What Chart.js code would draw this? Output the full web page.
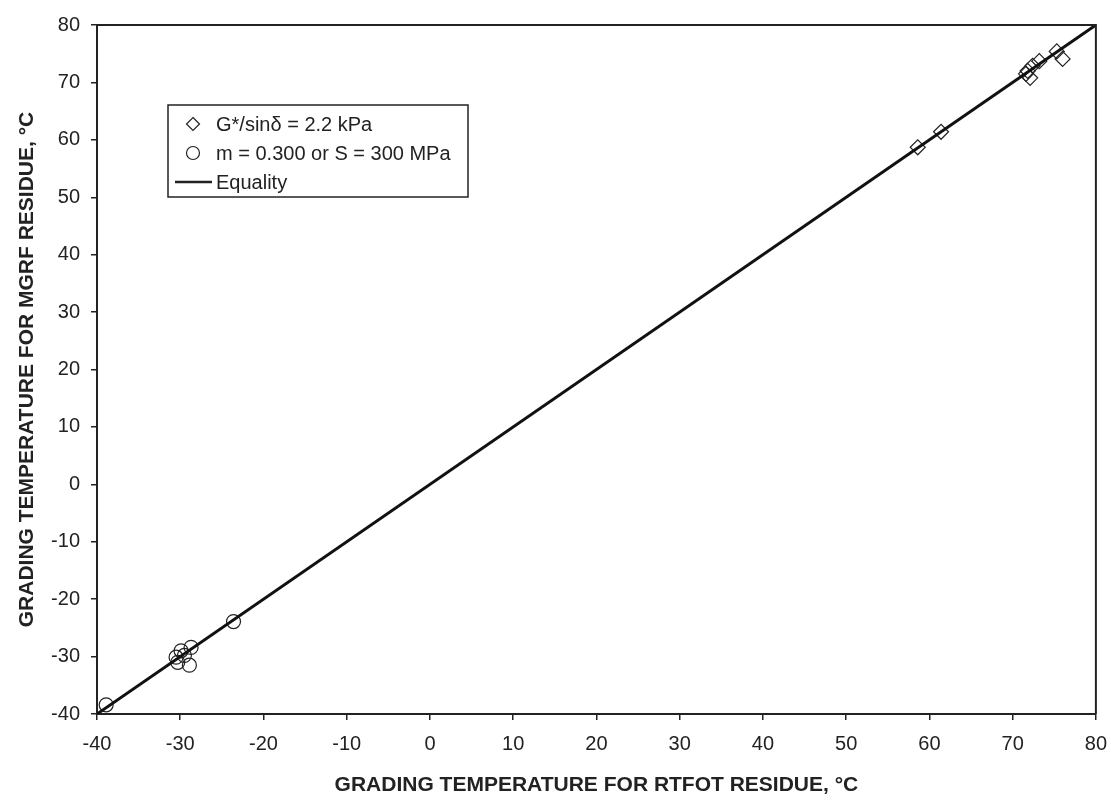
<!DOCTYPE html>
<html lang="en">
<head>
    <meta charset="UTF-8">
    <title>Grading temperature MGRF vs RTFOT</title>
    <script src="https://cdn.jsdelivr.net/npm/chart.js"></script>
    <style>
        html, body { margin: 0; padding: 0; background: #fff; }
        #wrap { width: 1119px; height: 804px; }
    </style>
</head>
<body>
    <div id="wrap"><canvas id="gradeChart" width="1119" height="804"></canvas></div>

    <script>
        // high temperature grading (G*/sin d = 2.2 kPa): RTFOT vs MGRF
        const highRtfot = [58.6, 61.4, 71.8, 71.6, 72.1, 72.4, 73.2, 75.3, 76.0];
        const highMgrf  = [58.7, 61.4, 72.0, 71.5, 70.8, 72.9, 73.7, 75.4, 74.1];

        // low temperature grading (m = 0.300 or S = 300 MPa)
        const lowRtfot = [-38.9, -30.5, -30.3, -29.9, -29.5, -28.7, -28.9, -23.6];
        const lowMgrf  = [-38.4, -30.1, -31.0, -29.0, -29.8, -28.4, -31.5, -23.9];

        const equalityX = [-40, 80];
        const axisTicks = [-40, -30, -20, -10, 0, 10, 20, 30, 40, 50, 60, 70, 80];

        const toPoints = (xs, ys) => xs.map((x, i) => ({ x: x, y: ys[i] }));

        const font = 'Liberation Sans, Arial, Helvetica, sans-serif';

        // top/right frame and the legend box in the upper left of the plot
        const framePlugin = {
            id: 'frame',
            afterDraw(chart) {
                const ctx = chart.ctx;
                const a = chart.chartArea;
                ctx.save();
                ctx.strokeStyle = '#222';
                ctx.lineWidth = 2;
                ctx.beginPath();
                ctx.moveTo(a.left, a.top);
                ctx.lineTo(a.right, a.top);
                ctx.lineTo(a.right, a.bottom);
                ctx.stroke();

                const bx = 168, by = 105, bw = 300, bh = 92;
                ctx.fillStyle = '#fff';
                ctx.fillRect(bx, by, bw, bh);
                ctx.lineWidth = 1.5;
                ctx.strokeRect(bx, by, bw, bh);

                const rows = [124, 153, 182];
                ctx.font = '20px ' + font;
                ctx.textBaseline = 'middle';
                ctx.fillStyle = '#222';
                chart.data.datasets.forEach((d, i) => {
                    const y = rows[i];
                    ctx.strokeStyle = '#222';
                    ctx.beginPath();
                    if (d.type === 'line') {
                        ctx.lineWidth = 2.5;
                        ctx.moveTo(175, y);
                        ctx.lineTo(212, y);
                    } else if (d.pointStyle === 'rectRot') {
                        ctx.lineWidth = 1.2;
                        ctx.moveTo(193, y - 6.5);
                        ctx.lineTo(199.5, y);
                        ctx.lineTo(193, y + 6.5);
                        ctx.lineTo(186.5, y);
                        ctx.closePath();
                    } else {
                        ctx.lineWidth = 1.2;
                        ctx.arc(193, y, 6.5, 0, Math.PI * 2);
                    }
                    ctx.stroke();
                    ctx.fillText(d.label, 216, y + 1);
                });
                ctx.restore();
            }
        };

        const config = {
            type: 'scatter',
            data: {
                datasets: [
                    {
                        label: 'G*/sin\u03b4 = 2.2 kPa',
                        data: toPoints(highRtfot, highMgrf),
                        pointStyle: 'rectRot',
                        pointRadius: 7.5,
                        borderColor: '#222',
                        backgroundColor: 'rgba(0,0,0,0)',
                        borderWidth: 1.2,
                        order: 1
                    },
                    {
                        label: 'm = 0.300 or S = 300 MPa',
                        data: toPoints(lowRtfot, lowMgrf),
                        pointStyle: 'circle',
                        pointRadius: 7,
                        borderColor: '#222',
                        backgroundColor: 'rgba(0,0,0,0)',
                        borderWidth: 1.2,
                        order: 1
                    },
                    {
                        type: 'line',
                        label: 'Equality',
                        data: toPoints(equalityX, equalityX),
                        borderColor: '#111',
                        borderWidth: 3,
                        pointRadius: 0,
                        fill: false,
                        order: 0
                    }
                ]
            },
            options: {
                responsive: false,
                animation: false,
                layout: { padding: { top: 25, right: 19, left: 0, bottom: 0 } },
                plugins: {
                    legend: { display: false },
                    tooltip: { enabled: false }
                },
                scales: {
                    x: {
                        type: 'linear',
                        min: -40,
                        max: 80,
                        afterBuildTicks: s => { s.ticks = axisTicks.map(v => ({ value: v })); },
                        afterFit: s => { s.height = 90; },
                        grid: { drawOnChartArea: false, drawTicks: true, tickLength: 6, color: '#222', lineWidth: 1.5 },
                        border: { display: true, color: '#222', width: 2 },
                        ticks: { color: '#222', font: { family: font, size: 20 }, padding: 12, maxRotation: 0 },
                        title: {
                            display: true,
                            text: 'GRADING TEMPERATURE FOR RTFOT RESIDUE, \u00b0C',
                            color: '#222',
                            font: { family: font, size: 21, weight: 'bold' },
                            padding: { top: 0, bottom: 6 }
                        }
                    },
                    y: {
                        type: 'linear',
                        min: -40,
                        max: 80,
                        afterBuildTicks: s => { s.ticks = axisTicks.map(v => ({ value: v })); },
                        afterFit: s => { s.width = 97; },
                        grid: { drawOnChartArea: false, drawTicks: true, tickLength: 6, color: '#222', lineWidth: 1.5 },
                        border: { display: true, color: '#222', width: 2 },
                        ticks: { color: '#222', font: { family: font, size: 20 }, padding: 11 },
                        title: {
                            display: true,
                            text: 'GRADING TEMPERATURE FOR MGRF RESIDUE, \u00b0C',
                            color: '#222',
                            font: { family: font, size: 21, weight: 'bold' },
                            padding: { top: 15, bottom: 0 }
                        }
                    }
                }
            },
            plugins: [framePlugin]
        };

        new Chart(document.getElementById('gradeChart'), config);
    </script>
</body>
</html>
